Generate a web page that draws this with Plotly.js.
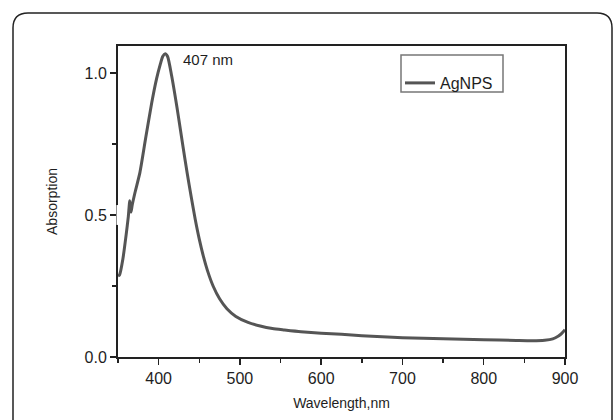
<!DOCTYPE html>
<html>
<head>
<meta charset="utf-8">
<script src="https://cdn.plot.ly/plotly-3.0.1.min.js"></script>
<style>html,body{margin:0;padding:0;background:#fff;}#chart{width:616px;height:420px;}</style>
</head>
<body>
<div id="chart"></div>
<script>
// Wavelength (nm) and absorption values
const wavelength = [350,352,356,360,362.7,364.5,366,367.5,371,377,384,391.5,397.5,402,405,408,411,416,422.5,426,430,435,440,445,450,455,460,467,475,484,495,510,525,540,555,575,600,625,650,675,700,750,800,840,860,875,885,892,896,900];
const absorption = [0.285,0.29,0.345,0.43,0.494,0.55,0.51,0.535,0.58,0.65,0.77,0.895,0.98,1.03,1.058,1.068,1.058,0.99,0.88,0.815,0.74,0.65,0.565,0.485,0.415,0.355,0.305,0.25,0.205,0.17,0.143,0.122,0.109,0.100,0.095,0.089,0.084,0.080,0.075,0.071,0.068,0.064,0.061,0.058,0.057,0.059,0.064,0.074,0.083,0.096];
const seriesName = "AgNPS";
const peakLabel = "407 nm";
const peakLabelPos = [428, 1.046];
const xTitle = "Wavelength,nm";
const yTitle = "Absorption";

const W = 616, H = 420;
const M = {l: 118, r: 51, t: 46, b: 63};
const PW = W - M.l - M.r, PH = H - M.t - M.b;
const px = x => (x - M.l) / PW;
const py = y => (H - M.b - y) / PH;

// rounded outer frame
const fx0 = 13, fy0 = 13, fx1 = 612, fy1 = 445, rr = 15;
const framePath = `M ${px(fx0)},${py(fy1)} L ${px(fx0)},${py(fy0+rr)} Q ${px(fx0)},${py(fy0)} ${px(fx0+rr)},${py(fy0)} L ${px(fx1-rr)},${py(fy0)} Q ${px(fx1)},${py(fy0)} ${px(fx1)},${py(fy0+rr)} L ${px(fx1)},${py(fy1)}`;

const font = "Liberation Sans, Arial, sans-serif";
const textColor = "#1e1e1e";

const trace = {
  x: wavelength, y: absorption, name: seriesName,
  type: "scatter", mode: "lines",
  line: {color: "#555555", width: 3, shape: "spline", smoothing: 0.6}
};

const layout = {
  width: W, height: H,
  margin: M,
  paper_bgcolor: "#ffffff", plot_bgcolor: "#ffffff",
  font: {family: font, color: textColor},
  showlegend: true,
  legend: {x: px(400), y: py(66), xanchor: "left", yanchor: "top",
           bgcolor: "rgba(0,0,0,0)", borderwidth: 0,
           font: {family: font, size: 16, color: textColor}},
  xaxis: {
    range: [350, 900], dtick: 100, tick0: 0,
    showgrid: false, zeroline: false,
    showline: true, mirror: true, linecolor: "#222", linewidth: 2,
    ticks: "outside", ticklen: 6, tickwidth: 1.5, tickcolor: "#222",
    minor: {dtick: 50, ticks: "outside", ticklen: 4, tickwidth: 1.5, tickcolor: "#222", showgrid: false},
    tickfont: {family: font, size: 16, color: textColor},
    title: {text: xTitle, font: {family: font, size: 14, color: textColor}, standoff: 12}
  },
  yaxis: {
    range: [0, 1.095], dtick: 0.5, tick0: 0, tickformat: ".1f",
    showgrid: false, zeroline: false,
    showline: true, mirror: true, linecolor: "#222", linewidth: 2,
    ticks: "outside", ticklen: 6, tickwidth: 1.5, tickcolor: "#222",
    minor: {dtick: 0.25, ticks: "outside", ticklen: 4, tickwidth: 1.5, tickcolor: "#222", showgrid: false},
    tickfont: {family: font, size: 16, color: textColor},
    title: {text: yTitle, font: {family: font, size: 14, color: textColor}, standoff: 24}
  },
  annotations: [{
    x: peakLabelPos[0], y: peakLabelPos[1], xref: "x", yref: "y",
    text: peakLabel, showarrow: false, xanchor: "left", yanchor: "middle",
    font: {family: font, size: 15, color: textColor}
  }],
  shapes: [
    {type: "path", xref: "paper", yref: "paper", path: framePath,
     line: {color: "#222", width: 1.5}, layer: "above"},
    {type: "rect", xref: "paper", yref: "paper",
     x0: px(401), x1: px(503), y0: py(92), y1: py(55),
     line: {color: "#777", width: 1.5}, fillcolor: "rgba(0,0,0,0)"},
    {type: "line", xref: "paper", yref: "y", x0: 0, x1: 0, y0: 0.465, y1: 0.535,
     line: {color: "#ffffff", width: 3}, layer: "above"}
  ]
};

Plotly.newPlot("chart", [trace], layout, {displayModeBar: false, staticPlot: true});
</script>
</body>
</html>
